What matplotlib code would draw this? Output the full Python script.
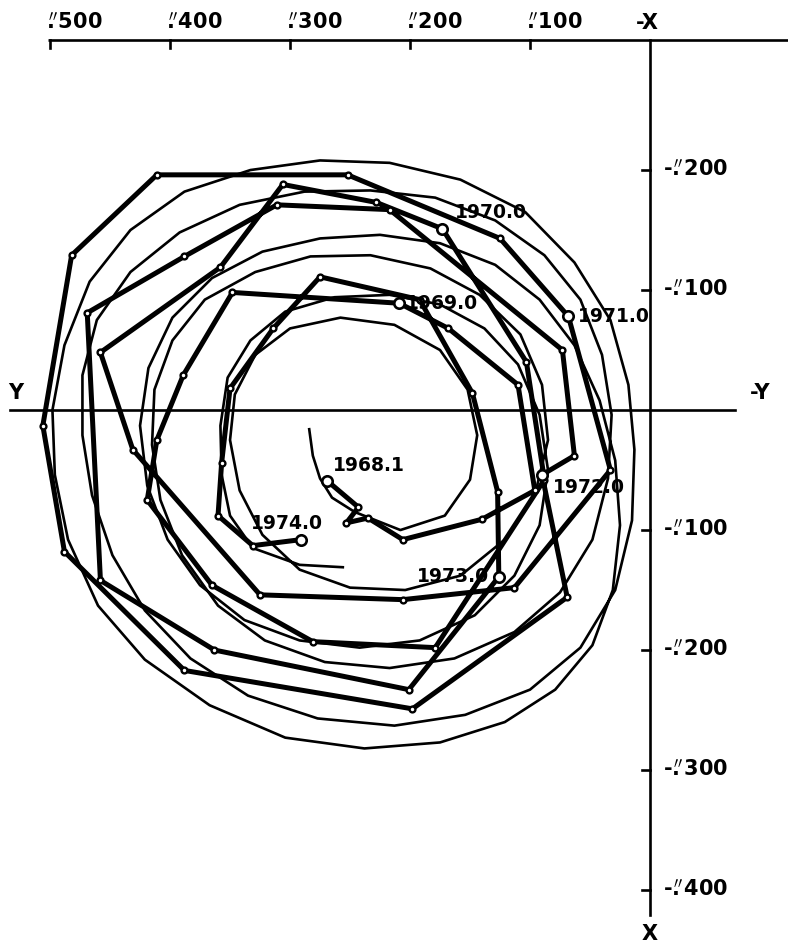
import matplotlib
matplotlib.use("Agg")
import matplotlib.pyplot as plt

# Pole path at 0.1 yr steps, 1968.1 .. 1974.0, in units of 0".001
# y counts to the left, x counts downward
path_y = [269, 243, 253, 235, 206, 140, 96, 110, 168, 209,
          348, 389, 411, 419, 365, 281, 179, 88, 103, 173,
          228, 306, 358, 458, 431, 325, 206, 113, 33, 68,
          125, 252, 411, 482, 506, 488, 388, 198, 69, 90,
          63, 73, 217, 311, 388, 469, 458, 363, 201, 126,
          127, 148, 192, 275, 314, 350, 357, 360, 331, 291]
path_x = [59, 81, 94, 90, 108, 91, 67, -21, -68, -89,
          -98, -29, 25, 75, 146, 193, 198, 58, -40, -151,
          -173, -188, -119, -48, 33, 154, 158, 148, 50, -78,
          -143, -196, -196, -129, 13, 118, 217, 249, 156, 54,
          38, -50, -167, -171, -128, -81, 142, 200, 233, 139,
          68, -14, -92, -111, -68, -18, 44, 88, 113, 108]

# smoothed mean path
mean_y = [284, 281, 275, 265, 246,
          208, 171, 150, 144, 152, 175, 213, 258, 300, 329, 346, 350, 342, 323, 292, 250,
          204, 158, 121, 96, 85, 90, 108, 142, 183, 233, 283, 329, 371, 398, 413, 415,
          408, 390, 360, 321, 271,
          217, 163, 113, 75, 48, 35, 32, 40, 58, 88, 129, 179, 233, 288, 342, 392,
          433, 461, 473, 473, 465, 448, 421, 383, 335, 277,
          213, 154, 100, 58, 29, 15, 13, 18, 33, 63, 104, 158, 217, 275, 333, 388,
          433, 467, 488, 498, 496, 485, 460, 421, 367, 304, 238, 175, 121,
          79, 48, 31, 25, 29, 42, 63, 92, 129, 175, 225, 275, 323, 365, 398, 418,
          425, 419, 402, 375, 338, 292,
          242, 192, 146, 113, 92, 85, 92, 110, 138, 175, 217, 263, 304, 333, 352,
          358, 357, 350, 331, 292, 256]
mean_x = [16, 38, 57, 73, 85,
          100, 88, 58, 21, -17, -50, -71, -77, -68, -46, -13, 25, 67, 104, 133, 148,
          150, 138, 108, 71, 25, -21, -63, -96, -118, -129, -128, -115, -92, -58, -17, 29,
          75, 121, 163, 192, 210,
          215, 207, 185, 152, 108, 57, 4, -46, -92, -129, -158, -177, -183, -182, -171, -148,
          -115, -75, -29, 21, 71, 121, 167, 207, 238, 257,
          263, 254, 233, 198, 150, 92, 33, -21, -75, -123, -165, -192, -206, -208, -200, -182,
          -150, -107, -54, 0, 54, 108, 163, 208, 246, 273, 282, 277, 260,
          233, 196, 150, 96, 42, -8, -54, -92, -121, -139, -146, -143, -132, -110, -77, -35,
          13, 63, 108, 146, 175, 192,
          198, 192, 171, 138, 96, 50, 4, -38, -68, -88, -96, -94, -82, -58, -27,
          13, 54, 88, 115, 129, 131]

year_text = ["1968.1", "1969.0", "1970.0", "1971.0", "1972.0", "1973.0", "1974.0"]
year_idx = [0, 9, 19, 29, 39, 49, 59]

top_ticks = [500, 400, 300, 200, 100]
side_ticks = [-200, -100, 100, 200, 300, 400]

# label placement (offset points, ha, va)
year_pos = [((4, 4), "left", "bottom"),
            ((5, 0), "left", "center"),
            ((9, 5), "left", "bottom"),
            ((7, 0), "left", "center"),
            ((8, -9), "left", "center"),
            ((-7, 0), "right", "center"),
            ((-10, 5), "center", "bottom")]

FONT = ["DejaVu Sans"]
SEC = r"$\overset{\prime\prime}{\mathbf{.}}$"
plt.rcParams["mathtext.default"] = "bf"

LW_AX = 1.9

fig = plt.figure(figsize=(7.88, 9.42), dpi=100)
ax = fig.add_axes([0, 0, 1, 1])
ax.set_axis_off()
ax.set_xlim(541.7, -115)
ax.set_ylim(443.3, -341.7)

top = -308
ax.plot([502, -116], [top, top], color="k", lw=LW_AX, solid_capstyle="butt")
for t in top_ticks:
    ax.plot([t, t], [top, top + 6], color="k", lw=LW_AX)
    ax.text(t + 3, top - 6, SEC + str(t), ha="left", va="bottom",
            fontsize=15, family=FONT, weight="bold")
ax.text(2, top - 6, "-X", ha="center", va="bottom", fontsize=15, family=FONT,
        weight="bold")

ax.plot([0, 0], [top, 421], color="k", lw=LW_AX)
for t in side_ticks:
    ax.plot([0, 7], [t, t], color="k", lw=LW_AX)
    ax.text(-11, t, "-" + SEC + str(abs(t)), ha="left", va="center",
            fontsize=15, family=FONT, weight="bold")
ax.text(0, 428, "X", ha="center", va="top", fontsize=15, family=FONT, weight="bold")

ax.plot([533, -71], [0, 0], color="k", lw=LW_AX)
ax.text(529, -6, "Y", ha="center", va="bottom", fontsize=15, family=FONT, weight="bold")
ax.text(-92, -6, "-Y", ha="center", va="bottom", fontsize=15, family=FONT, weight="bold")

ax.plot(mean_y, mean_x, color="k", lw=1.9, solid_joinstyle="round", zorder=2)
ax.plot(path_y, path_x, color="k", lw=3.6, solid_joinstyle="round",
        solid_capstyle="round", zorder=3)
ax.plot(path_y, path_x, "o", ms=4.2, mfc="white", mec="k", mew=1.7, zorder=4)

for txt, i, (off, ha, va) in zip(year_text, year_idx, year_pos):
    ax.plot(path_y[i], path_x[i], "o", ms=7.5, mfc="white", mec="k", mew=1.9, zorder=5)
    ax.annotate(txt, (path_y[i], path_x[i]), xytext=off, textcoords="offset points",
                ha=ha, va=va, fontsize=13.5, family=FONT, weight="bold", zorder=6)

fig.savefig("out.png", dpi=100)
